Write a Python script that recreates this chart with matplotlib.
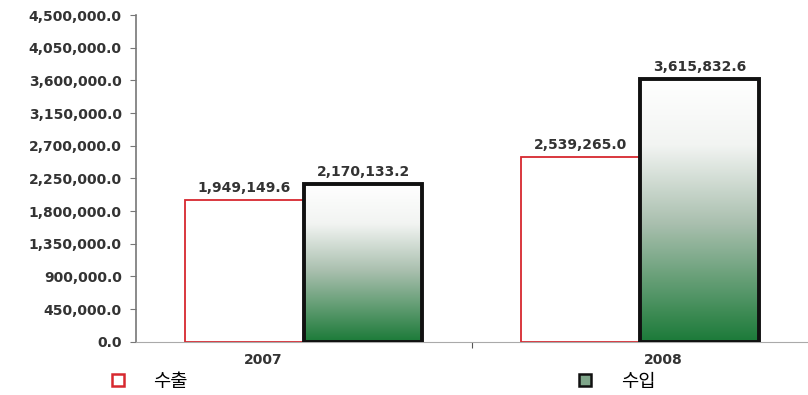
import numpy as np
import matplotlib.pyplot as plt
from matplotlib.colors import LinearSegmentedColormap
from matplotlib.lines import Line2D
import matplotlib.transforms as mtransforms

years = ['2007', '2008']
exports = [1949149.6, 2539265.0]
imports = [2170133.2, 3615832.6]
series_names = ['수출', '수입']
yticks = np.arange(0, 4500001, 450000)

red = '#d7282f'
green = '#1b7a38'
textcol = '#333333'

fig = plt.figure(figsize=(8.08, 3.95), dpi=100)
ax = fig.add_axes([0.168, 0.135, 0.832, 0.827])

x = np.arange(len(years))
w = 0.353

ax.bar(x - w/2, exports, width=w, color='white', edgecolor=red, linewidth=1.3, zorder=2)
bars = ax.bar(x + w/2, imports, width=w, color='none', edgecolor='#111111', linewidth=2.8, zorder=3)

# white (top) -> green (bottom) gradient inside each import bar
grad = LinearSegmentedColormap.from_list('g', [(0, '#ffffff'), (0.25, '#f2f4f2'),
                                               (0.55, '#a9bfae'), (1, green)])
for b in bars:
    x0, y0 = b.get_x(), b.get_y()
    im = ax.imshow(np.linspace(0, 1, 256).reshape(-1, 1), cmap=grad, aspect='auto',
                   extent=[x0, x0 + b.get_width(), y0, y0 + b.get_height()],
                   zorder=2.5, origin='upper')
    im.set_clip_path(b)

for xi, v in zip(x - w/2, exports):
    ax.annotate(f'{v:,.1f}', (xi, v), xytext=(0, 4), textcoords='offset points',
                ha='center', va='bottom', fontsize=10, fontweight='bold', color=textcol)
for xi, v in zip(x + w/2, imports):
    ax.annotate(f'{v:,.1f}', (xi, v), xytext=(0, 4), textcoords='offset points',
                ha='center', va='bottom', fontsize=10, fontweight='bold', color=textcol)

ax.set_xlim(-0.5, 1.5)
ax.set_ylim(0, 4500000)
ax.set_yticks(yticks)
ax.set_yticklabels([f'{t:,.1f}' for t in yticks], fontsize=10, fontweight='bold', color=textcol)
ax.tick_params(axis='y', length=4, color='#777777', pad=6)

ax.set_xticks([0.5])
ax.set_xticklabels([''])
ax.tick_params(axis='x', length=4, color='#555555')
# category labels sit a bit off the group centres in the original
label_shift = [-0.12, 0.07]
for xi, lab, dx in zip(x, years, label_shift):
    ax.text(xi + dx, -0.035, lab, transform=mtransforms.blended_transform_factory(ax.transData, ax.transAxes),
            ha='center', va='top', fontsize=10, fontweight='bold', color=textcol)

for s in ['top', 'right']:
    ax.spines[s].set_visible(False)
ax.spines['left'].set_color('#777777')
ax.spines['bottom'].set_color('#aaaaaa')
ax.spines['left'].set_linewidth(1.2)

handles = [Line2D([], [], marker='s', linestyle='none', markersize=8, markerfacecolor='white',
                  markeredgecolor=red, markeredgewidth=1.8),
           Line2D([], [], marker='s', linestyle='none', markersize=8, markerfacecolor='#7fa68a',
                  markeredgecolor='#111111', markeredgewidth=1.8)]
fig.legend(handles, series_names, loc='center left', bbox_to_anchor=(0.134, 0.035), ncol=2,
           frameon=False, handlelength=1.0, handletextpad=1.4, columnspacing=20.7,
           prop={'family': ['Noto Sans CJK KR', 'DejaVu Sans'], 'size': 13.5, 'weight': 'medium'},
           borderpad=0, borderaxespad=0)

fig.savefig('out.png', dpi=100)
